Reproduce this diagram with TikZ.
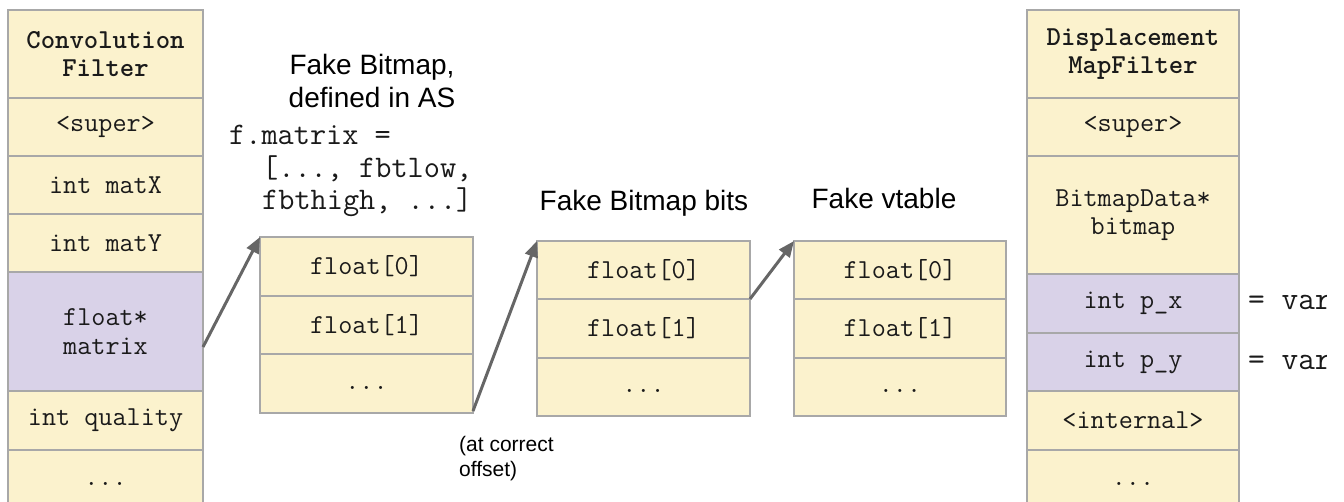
\documentclass[tikz,border=0pt]{standalone}
\usepackage{fontspec}
\setmainfont{Liberation Sans}
\usetikzlibrary{arrows.meta}
\definecolor{yel}{HTML}{FBF2CD}
\definecolor{pur}{HTML}{D9D2E8}
\definecolor{bord}{HTML}{A8A8A8}
\definecolor{arr}{HTML}{666666}
\definecolor{ink}{HTML}{1A1A1A}
\tikzset{
  cell/.style={draw=bord, line width=1.5bp, fill=yel, inner sep=0pt, outer sep=0pt,
    align=center, text=ink, font=\ttfamily\fontsize{27.4bp}{28.5bp}\selectfont},
  pcell/.style={cell, fill=pur},
  hcell/.style={cell, font=\ttfamily\bfseries\fontsize{27.4bp}{28.5bp}\selectfont},
  lcol/.style={minimum width=195bp},
  rcol/.style={minimum width=212bp},
  mcol/.style={minimum width=213bp},
  title/.style={inner sep=0pt, align=center, text=black, font=\fontsize{28bp}{33bp}\selectfont},
  note/.style={inner sep=0pt, align=left, text=black, font=\fontsize{21bp}{25bp}\selectfont},
  codetext/.style={inner sep=0pt, align=left, text=ink, font=\ttfamily\fontsize{31.4bp}{32.5bp}\selectfont},
  ptr/.style={draw=arr, line width=3bp, -{Triangle[length=16bp,width=13bp]}}
}
\begin{document}
\begin{tikzpicture}[x=1bp,y=-1bp]
\useasboundingbox (0,0) rectangle (1344,502);
\fill[white] (0,0) rectangle (1344,502);

% ConvolutionFilter column
\node[hcell, lcol, minimum height=88bp] (Lh) at (105.5,54) {Convolution\\Filter};
\node[cell, lcol, minimum height=58bp] (Lsup) at (105.5,127) {<super>};
\node[cell, lcol, minimum height=58bp] (LmatX) at (105.5,185) {int matX};
\node[cell, lcol, minimum height=58bp] (LmatY) at (105.5,243) {int matY};
\node[pcell, lcol, minimum height=119bp] (Lmat) at (105.5,331.5) {float*\\matrix};
\node[cell, lcol, minimum height=59bp] (Lq) at (105.5,420.5) {int quality};
\node[cell, lcol, minimum height=60bp] (Ld) at (105.5,480) {\strut...};

% DisplacementMapFilter column
\node[hcell, rcol, minimum height=88bp] (Rh) at (1133,54) {Displacement\\MapFilter};
\node[cell, rcol, minimum height=58bp] (Rsup) at (1133,127) {<super>};
\node[cell, rcol, minimum height=118bp] (Rbmp) at (1133,215) {BitmapData*\\bitmap};
\node[pcell, rcol, minimum height=59bp] (Rpx) at (1133,303.5) {int p\_x};
\node[pcell, rcol, minimum height=58bp] (Rpy) at (1133,362) {int p\_y};
\node[cell, rcol, minimum height=59bp] (Rint) at (1133,420.5) {<internal>};
\node[cell, rcol, minimum height=60bp] (Rd) at (1133,480) {\strut...};

% Fake Bitmap
\node[cell, mcol, minimum height=59bp] (F0) at (366.5,266.5) {float[0]};
\node[cell, mcol, minimum height=58bp] (F1) at (366.5,325) {float[1]};
\node[cell, mcol, minimum height=59bp] (F2) at (366.5,383.5) {\strut...};

% Fake Bitmap bits
\node[cell, mcol, minimum height=58bp] (B0) at (643.5,270) {float[0]};
\node[cell, mcol, minimum height=59bp] (B1) at (643.5,328.5) {float[1]};
\node[cell, mcol, minimum height=58bp] (B2) at (643.5,387) {\strut...};

% Fake vtable
\node[cell, rcol, minimum height=58bp] (V0) at (900,270) {float[0]};
\node[cell, rcol, minimum height=59bp] (V1) at (900,328.5) {float[1]};
\node[cell, rcol, minimum height=58bp] (V2) at (900,387) {\strut...};

% labels
\node[title] (tF) at (372,80.5) {Fake Bitmap,\\defined in AS};
\node[codetext, anchor=west] (code) at (229,171) {f.matrix =\\\hspace*{1.05em}[..., fbtlow,\\\hspace*{1.05em}fbthigh, ...]};
\node[title] (tB) at (644,203.5) {Fake Bitmap bits};
\node[title] (tV) at (884,198) {Fake vtable};
\node[note, anchor=west] (off) at (459,458.5) {(at correct\\offset)};

\begin{scope}
\clip (0,0) rectangle (1326,502);
\node[codetext, font=\ttfamily\fontsize{32.4bp}{33bp}\selectfont, anchor=west] (vx) at (1248,302) {= var};
\node[codetext, font=\ttfamily\fontsize{32.4bp}{33bp}\selectfont, anchor=west] (vy) at (1248,362) {= var};
\end{scope}

% pointers
\draw[ptr] ([yshift=-15.5bp]Lmat.east) -- (F0.north west);
\draw[ptr] ([yshift=2bp]F2.south east) -- (B0.north west);
\draw[ptr] (B0.south east) -- (V0.north west);
\end{tikzpicture}
\end{document}
